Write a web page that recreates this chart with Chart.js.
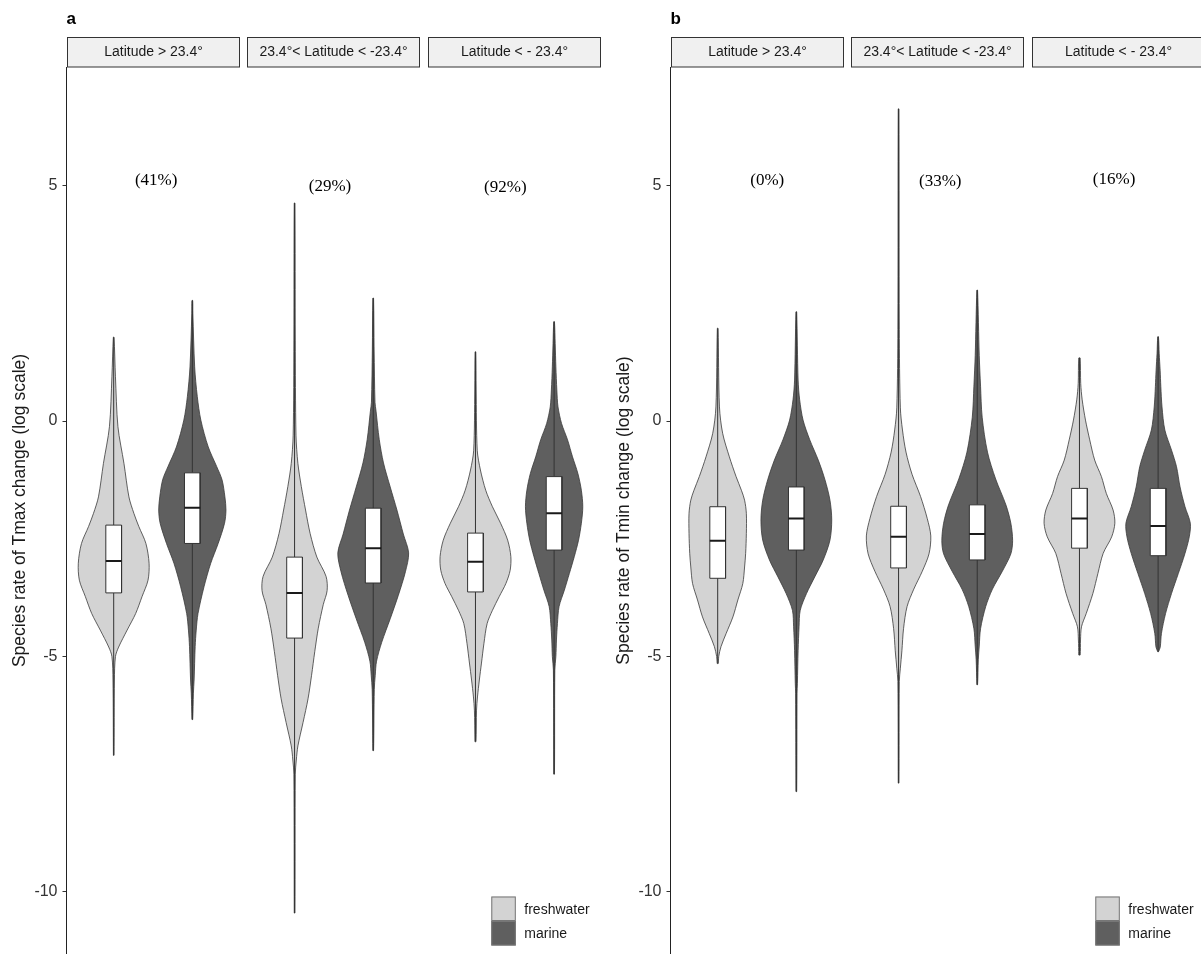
<!DOCTYPE html>
<html>
<head>
<meta charset="utf-8">
<script src="https://cdn.jsdelivr.net/npm/chart.js@4/dist/chart.umd.min.js"></script>
<style>
  html, body { margin: 0; padding: 0; background: #fff; overflow: hidden; width: 1201px; height: 954px; }
  canvas { position: absolute; top: 0; }
</style>
</head>
<body>
<canvas id="tmax" width="610" height="980" style="left:0px"></canvas>
<canvas id="tmin" width="610" height="980" style="left:604px"></canvas>
<script>
// ---- data -------------------------------------------------------------
const groups = ['freshwater', 'marine'];
const latitudeBands = ['Latitude > 23.4°', '23.4°< Latitude < -23.4°', 'Latitude < - 23.4°'];
const yTicks = [-10, -5, 0, 5];
const panelTags = ['a', 'b'];
const yTitles = ['Species rate of Tmax change (log scale)', 'Species rate of Tmin change (log scale)'];

// share labels per latitude band
const tmaxShare = ['(41%)', '(29%)', '(92%)'];
const tminShare = ['(0%)', '(33%)', '(16%)'];
const tmaxShareAt = [[1.54, 5.10], [3.75, 4.99], [5.98, 4.97]];
const tminShareAt = [[1.63, 5.10], [3.83, 5.08], [6.04, 5.14]];

// boxplot summaries: [min, q1, median, q3, max], order: band1 fw, band1 marine, band2 fw, ...
const tmaxBoxes = [
  [-7.10, -3.65, -2.97, -2.21, 1.78],
  [-6.34, -2.60, -1.84, -1.10, 2.56],
  [-10.45, -4.61, -3.65, -2.89, 4.63],
  [-7.00, -3.44, -2.70, -1.85, 2.61],
  [-6.81, -3.63, -2.99, -2.38, 1.47],
  [-7.50, -2.74, -1.96, -1.18, 2.11]
];
const tminBoxes = [
  [-5.15, -3.34, -2.54, -1.82, 1.97],
  [-7.87, -2.74, -2.07, -1.40, 2.32],
  [-7.69, -3.12, -2.46, -1.81, 6.63],
  [-5.60, -2.95, -2.40, -1.78, 2.78],
  [-4.97, -2.70, -2.07, -1.43, 1.34],
  [-4.90, -2.86, -2.23, -1.43, 1.79]
];

// kernel density profiles: [log rate, relative density], top to bottom
const tmaxNorthFresh = [[1.78,0.01],[0.94,0.05],[-0.12,0.12],[-0.90,0.29],[-1.61,0.43],[-1.96,0.57],[-2.24,0.71],[-2.60,0.91],[-3.02,1.0],[-3.38,0.97],[-3.73,0.80],[-4.09,0.62],[-4.44,0.38],[-4.80,0.14],[-5.00,0.05],[-5.50,0.02],[-7.10,0.008]];
const tmaxNorthMarine = [[2.56,0.01],[2.29,0.015],[1.15,0.066],[0.52,0.14],[0.02,0.24],[-0.55,0.45],[-0.97,0.69],[-1.25,0.84],[-1.61,0.92],[-1.89,0.95],[-2.17,0.91],[-2.60,0.73],[-3.02,0.52],[-3.52,0.33],[-4.09,0.16],[-4.44,0.11],[-4.79,0.08],[-5.50,0.05],[-5.78,0.03],[-6.34,0.01]];
const tmaxTropicFresh = [[4.63,0.01],[1.72,0.02],[-0.30,0.04],[-0.90,0.094],[-1.39,0.19],[-1.89,0.31],[-2.39,0.44],[-2.89,0.63],[-3.30,0.89],[-3.60,0.92],[-3.90,0.81],[-4.40,0.67],[-4.90,0.57],[-5.40,0.48],[-5.90,0.38],[-6.40,0.24],[-6.90,0.094],[-7.20,0.049],[-7.50,0.02],[-10.45,0.01]];
const tmaxTropicMarine = [[2.61,0.01],[1.51,0.025],[0.40,0.05],[0.21,0.08],[-0.39,0.17],[-0.89,0.29],[-1.40,0.48],[-1.89,0.67],[-2.40,0.85],[-2.80,1.0],[-3.20,0.91],[-3.70,0.71],[-4.20,0.48],[-4.70,0.24],[-5.10,0.094],[-5.40,0.057],[-5.70,0.03],[-7.00,0.01]];
const tmaxSouthFresh = [[1.47,0.01],[0.66,0.02],[-0.62,0.05],[-1.04,0.14],[-1.47,0.29],[-1.82,0.48],[-2.17,0.71],[-2.53,0.91],[-2.88,1.0],[-3.17,0.98],[-3.45,0.86],[-3.73,0.67],[-4.02,0.48],[-4.30,0.33],[-4.72,0.24],[-5.14,0.17],[-5.50,0.11],[-5.86,0.057],[-6.14,0.03],[-6.81,0.015]];
const tmaxSouthMarine = [[2.11,0.01],[1.65,0.03],[1.15,0.05],[0.66,0.077],[0.30,0.11],[-0.05,0.21],[-0.40,0.38],[-0.76,0.52],[-1.11,0.67],[-1.47,0.77],[-1.82,0.81],[-2.17,0.77],[-2.53,0.69],[-2.88,0.57],[-3.24,0.43],[-3.59,0.29],[-3.94,0.14],[-4.30,0.094],[-4.65,0.066],[-5.00,0.05],[-5.29,0.02],[-7.50,0.01]];

const tminNorthFresh = [[1.97,0.01],[0.30,0.05],[-0.26,0.14],[-0.76,0.33],[-1.18,0.52],[-1.47,0.67],[-1.68,0.76],[-1.96,0.81],[-2.39,0.81],[-2.81,0.79],[-3.10,0.76],[-3.45,0.71],[-3.80,0.57],[-4.16,0.43],[-4.51,0.24],[-4.79,0.094],[-5.00,0.03],[-5.15,0.015]];
const tminNorthMarine = [[2.32,0.01],[0.87,0.05],[0.45,0.094],[0.02,0.19],[-0.40,0.38],[-0.83,0.62],[-1.25,0.81],[-1.68,0.95],[-2.10,1.0],[-2.53,0.95],[-2.95,0.76],[-3.31,0.52],[-3.66,0.29],[-4.02,0.11],[-4.37,0.077],[-4.87,0.05],[-5.57,0.03],[-5.78,0.02],[-7.87,0.01]];
const tminTropicFresh = [[6.63,0.01],[1.95,0.02],[0.28,0.05],[-0.19,0.11],[-0.66,0.21],[-1.13,0.38],[-1.60,0.62],[-2.07,0.81],[-2.44,0.91],[-2.82,0.86],[-3.19,0.67],[-3.57,0.43],[-3.94,0.24],[-4.41,0.14],[-4.88,0.094],[-5.25,0.05],[-5.53,0.02],[-7.69,0.01]];
const tminTropicMarine = [[2.78,0.01],[1.39,0.057],[0.74,0.094],[0.08,0.14],[-0.66,0.29],[-1.23,0.52],[-1.78,0.81],[-2.17,0.95],[-2.54,1.0],[-2.82,0.95],[-3.19,0.71],[-3.57,0.43],[-3.94,0.24],[-4.41,0.094],[-4.78,0.057],[-5.07,0.03],[-5.60,0.01]];
const tminSouthFresh = [[1.34,0.02],[0.80,0.035],[0.45,0.077],[0.02,0.17],[-0.40,0.29],[-0.83,0.43],[-1.18,0.62],[-1.54,0.76],[-1.89,0.95],[-2.17,1.0],[-2.46,0.91],[-2.81,0.67],[-3.24,0.52],[-3.66,0.38],[-4.09,0.19],[-4.37,0.057],[-4.65,0.03],[-4.97,0.02]];
const tminSouthMarine = [[1.79,0.01],[1.44,0.03],[1.08,0.057],[0.73,0.077],[0.30,0.11],[-0.19,0.19],[-0.62,0.38],[-0.97,0.52],[-1.40,0.62],[-1.82,0.76],[-2.17,0.91],[-2.46,0.88],[-2.81,0.76],[-3.24,0.57],[-3.66,0.38],[-4.09,0.21],[-4.51,0.094],[-4.80,0.06],[-4.90,0.01]];

const tmaxDensities = [tmaxNorthFresh, tmaxNorthMarine, tmaxTropicFresh, tmaxTropicMarine, tmaxSouthFresh, tmaxSouthMarine];
const tminDensities = [tminNorthFresh, tminNorthMarine, tminTropicFresh, tminTropicMarine, tminSouthFresh, tminSouthMarine];

// ---- layout & style ---------------------------------------------------
const X_MIN = 0.4, X_MAX = 7.2, FACET_W = 2.2, FACET_STEP = 2.3;
const Y_MIN = -11.32, Y_MAX = 7.52;
const HALF_VIOLIN = 0.45, HALF_BOX = 0.1;
const FILLS = ['#d3d3d3', '#5f5f5f'];
const SANS = '"Liberation Sans", Arial, sans-serif';
const SERIF = '"Liberation Serif", "Times New Roman", serif';
Chart.defaults.font.family = SANS;

function violinOutline(cx, profile) {
  const left = profile.slice().reverse().map(([y, d]) => ({ x: cx - d * HALF_VIOLIN, y }));
  const right = profile.map(([y, d]) => ({ x: cx + d * HALF_VIOLIN, y }));
  const pts = left.concat(right);
  pts.push(pts[0]);
  return pts;
}

function panelDatasets(densities, boxes) {
  const ds = [];
  densities.forEach((profile, i) => {
    const band = Math.floor(i / 2), g = i % 2;
    const cx = 1 + g + FACET_STEP * band;
    ds.push({
      data: violinOutline(cx, profile), fill: 'shape', backgroundColor: FILLS[g],
      borderColor: '#3a3a3a', borderWidth: 0.8, tension: 0.3, pointRadius: 0, order: 4
    });
    const [lo, q1, med, q3, hi] = boxes[i];
    ds.push({
      data: [{ x: cx, y: lo }, { x: cx, y: hi }], fill: false,
      borderColor: '#333', borderWidth: 1, pointRadius: 0, order: 3
    });
    ds.push({
      data: [{ x: cx - HALF_BOX, y: q1 }, { x: cx - HALF_BOX, y: q3 }, { x: cx + HALF_BOX, y: q3 },
             { x: cx + HALF_BOX, y: q1 }, { x: cx - HALF_BOX, y: q1 }],
      fill: 'shape', backgroundColor: '#ffffff', borderColor: '#333', borderWidth: 1,
      tension: 0, pointRadius: 0, order: 2
    });
    ds.push({
      data: [{ x: cx - HALF_BOX, y: med }, { x: cx + HALF_BOX, y: med }], fill: false,
      borderColor: '#1a1a1a', borderWidth: 2, pointRadius: 0, order: 1
    });
  });
  return ds;
}

// strips, panel tag, share labels and legend
const decorations = {
  id: 'decorations',
  afterDraw(chart, args, opts) {
    const { ctx, chartArea, scales: { x, y } } = chart;
    const { left, right, top, bottom } = chartArea;
    ctx.save();

    ctx.fillStyle = '#000';
    ctx.font = 'bold 17px ' + SANS;
    ctx.textAlign = 'left';
    ctx.textBaseline = 'alphabetic';
    ctx.fillText(opts.tag, left, 24);

    latitudeBands.forEach((band, k) => {
      const x0 = Math.round(x.getPixelForValue(X_MIN + FACET_STEP * k)) + 0.5;
      const x1 = Math.round(x.getPixelForValue(X_MIN + FACET_W + FACET_STEP * k)) - 0.5;
      const y0 = top - 30 + 0.5, h = 29.5;
      ctx.fillStyle = '#f0f0f0';
      ctx.fillRect(x0, y0, x1 - x0, h);
      ctx.strokeStyle = '#333';
      ctx.lineWidth = 1;
      ctx.strokeRect(x0, y0, x1 - x0, h);
      ctx.fillStyle = '#1a1a1a';
      ctx.font = '14px ' + SANS;
      ctx.textAlign = 'center';
      ctx.textBaseline = 'middle';
      ctx.fillText(band, (x0 + x1) / 2, top - 15);
    });

    ctx.fillStyle = '#000';
    ctx.font = '17px ' + SERIF;
    ctx.textAlign = 'center';
    ctx.textBaseline = 'middle';
    opts.share.forEach((label, k) => {
      const [ax, ay] = opts.shareAt[k];
      ctx.fillText(label, x.getPixelForValue(ax), y.getPixelForValue(ay));
    });

    const key = 24.5, kx = right - 110, ky = bottom - 57.5;
    groups.forEach((g, i) => {
      ctx.fillStyle = FILLS[i];
      ctx.fillRect(kx, ky + i * key, key, key);
      ctx.strokeStyle = '#777';
      ctx.lineWidth = 1;
      ctx.strokeRect(kx + 0.5, ky + i * key + 0.5, key - 1, key - 1);
      ctx.fillStyle = '#1a1a1a';
      ctx.font = '14px ' + SANS;
      ctx.textAlign = 'left';
      ctx.textBaseline = 'middle';
      ctx.fillText(g, kx + 33, ky + i * key + key / 2 + 1);
    });
    ctx.restore();
  }
};

function makePanel(canvasId, tag, title, densities, boxes, share, shareAt) {
  return new Chart(document.getElementById(canvasId), {
    type: 'line',
    data: { datasets: panelDatasets(densities, boxes) },
    plugins: [decorations],
    options: {
      responsive: false,
      animation: false,
      events: [],
      layout: { padding: { top: 67, right: 8.7, bottom: 26, left: 0 } },
      plugins: {
        legend: { display: false },
        tooltip: { enabled: false },
        decorations: { tag, share, shareAt }
      },
      scales: {
        x: { type: 'linear', min: X_MIN, max: X_MAX, display: false },
        y: {
          type: 'linear', min: Y_MIN, max: Y_MAX,
          afterFit: s => { s.width = 66.5; },
          afterBuildTicks: s => { s.ticks = yTicks.map(v => ({ value: v })); },
          ticks: { font: { size: 16, family: SANS }, color: '#333', padding: 5 },
          grid: { drawOnChartArea: false, drawTicks: true, tickLength: 4, tickColor: '#333', tickWidth: 1 },
          border: { display: true, color: '#222', width: 1 },
          title: { display: true, text: title, color: '#1a1a1a', font: { size: 17.5, family: SANS }, padding: { top: 10, bottom: 0 } }
        }
      }
    }
  });
}

makePanel('tmax', panelTags[0], yTitles[0], tmaxDensities, tmaxBoxes, tmaxShare, tmaxShareAt);
makePanel('tmin', panelTags[1], yTitles[1], tminDensities, tminBoxes, tminShare, tminShareAt);
</script>
</body>
</html>
